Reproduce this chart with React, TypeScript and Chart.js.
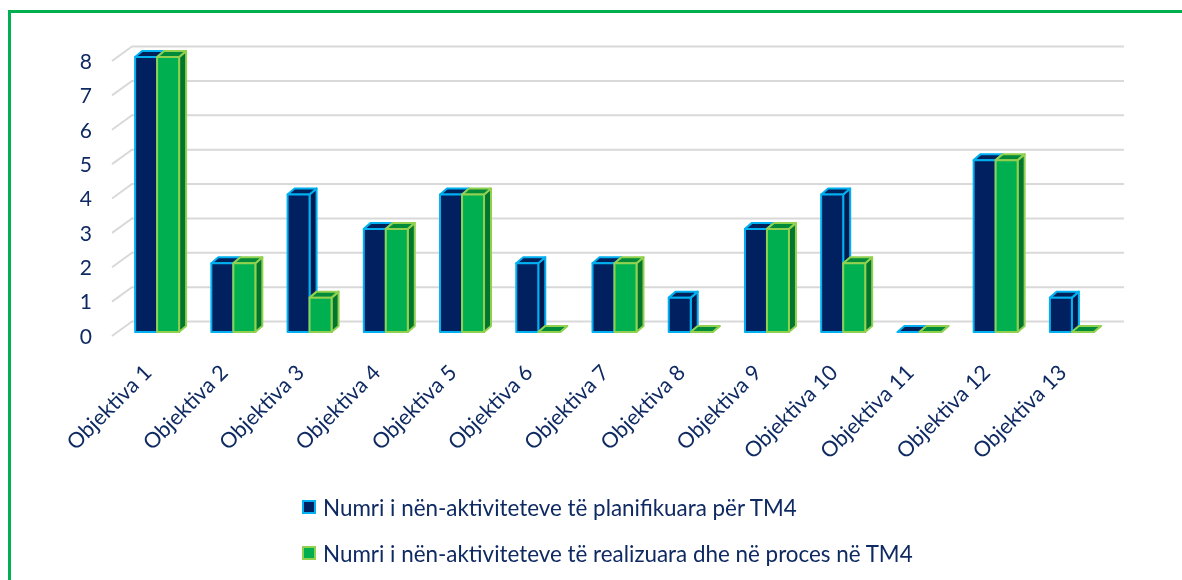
import React, { useEffect, useRef } from 'react';
import { Chart, registerables } from 'chart.js';

Chart.register(...registerables);

const categories = [
  'Objektiva 1', 'Objektiva 2', 'Objektiva 3', 'Objektiva 4', 'Objektiva 5',
  'Objektiva 6', 'Objektiva 7', 'Objektiva 8', 'Objektiva 9', 'Objektiva 10',
  'Objektiva 11', 'Objektiva 12', 'Objektiva 13',
];
const planned = [8, 2, 4, 3, 4, 2, 2, 1, 3, 4, 0, 5, 1];
const realized = [8, 2, 1, 3, 4, 0, 2, 0, 3, 2, 0, 5, 0];
const yTicks = [0, 1, 2, 3, 4, 5, 6, 7, 8];
const seriesNames = [
  'Numri i nën-aktiviteteve të planifikuara për TM4',
  'Numri i nën-aktiviteteve të realizuara dhe në proces në TM4',
];

const TEXT = '#0f2a62';
const FONT = 'Lato, "Open Sans", sans-serif';
const styles = [
  { front: '#002060', side: '#001a4d', top: '#00205a', border: '#00b0f0' },
  { front: '#00b050', side: '#00762f', top: '#008a3a', border: '#92d050' },
];
const DX = 7;
const DY = 6;

const threeD = {
  id: 'threeD',
  beforeDatasetsDraw(chart: any) {
    const { ctx, chartArea, scales } = chart;
    const y = scales.y;
    ctx.save();
    ctx.strokeStyle = '#d9d9d9';
    ctx.lineWidth = 2;
    yTicks.forEach((v) => {
      const py = y.getPixelForValue(v);
      ctx.beginPath();
      ctx.moveTo(chartArea.left - 7, py + 4);
      ctx.lineTo(chartArea.left + 13, py - 10.5);
      ctx.lineTo(chartArea.right + 14, py - 10.5);
      ctx.stroke();
    });
    ctx.restore();
  },
  afterDatasetsDraw(chart: any) {
    const { ctx } = chart;
    ctx.save();
    ctx.lineWidth = 2;
    ctx.lineJoin = 'round';
    for (let i = 0; i < categories.length; i++) {
      for (let d = 0; d < 2; d++) {
        const el = chart.getDatasetMeta(d).data[i];
        const p = el.getProps(['x', 'y', 'base', 'width'], true);
        const l = p.x - p.width / 2;
        const r = p.x + p.width / 2;
        const t = Math.min(p.y, p.base);
        const b = Math.max(p.y, p.base);
        const s = styles[d];
        ctx.strokeStyle = s.border;
        // side
        ctx.beginPath();
        ctx.moveTo(r, t);
        ctx.lineTo(r + DX, t - DY);
        ctx.lineTo(r + DX, b - DY);
        ctx.lineTo(r, b);
        ctx.closePath();
        ctx.fillStyle = s.side;
        ctx.fill();
        ctx.stroke();
        // top
        ctx.beginPath();
        ctx.moveTo(l, t);
        ctx.lineTo(l + DX, t - DY);
        ctx.lineTo(r + DX, t - DY);
        ctx.lineTo(r, t);
        ctx.closePath();
        ctx.fillStyle = s.top;
        ctx.fill();
        ctx.stroke();
        // front
        if (b - t > 0.5) {
          ctx.beginPath();
          ctx.rect(l, t, r - l, b - t);
          ctx.fillStyle = s.front;
          ctx.fill();
          ctx.stroke();
        }
      }
    }
    ctx.restore();
  },
};

export default function App() {
  const ref = useRef<HTMLCanvasElement>(null);
  useEffect(() => {
    if (!ref.current) return;
    const chart = new Chart(ref.current, {
      type: 'bar',
      data: {
        labels: categories,
        datasets: [
          { label: seriesNames[0], data: planned, backgroundColor: 'rgba(0,0,0,0)', borderWidth: 0 },
          { label: seriesNames[1], data: realized, backgroundColor: 'rgba(0,0,0,0)', borderWidth: 0 },
        ],
      },
      options: {
        animation: false,
        responsive: false,
        maintainAspectRatio: false,
        datasets: { bar: { categoryPercentage: 0.577, barPercentage: 1 } },
        layout: { padding: { left: 0, top: 57, right: 72, bottom: 0 } },
        plugins: { legend: { display: false }, tooltip: { enabled: false }, title: { display: false } },
        scales: {
          x: {
            grid: { display: false, drawTicks: false },
            border: { display: false },
            ticks: {
              color: TEXT,
              font: { family: FONT, size: 21.5 },
              minRotation: 45,
              maxRotation: 45,
              padding: 28,
              labelOffset: -9,
              autoSkip: false,
            },
            afterFit: (s: any) => { s.height = 248; },
          },
          y: {
            min: 0,
            max: 8,
            grid: { display: false, drawTicks: false },
            border: { display: false },
            ticks: {
              stepSize: 1,
              color: TEXT,
              font: { family: FONT, size: 21 },
              padding: 27,
              labelOffset: 5,
            },
            afterFit: (s: any) => { s.width = 119; },
          },
        },
      },
      plugins: [threeD],
    });
    return () => chart.destroy();
  }, []);

  const legendItem = (i: number, top: number) => (
    <div style={{ position: 'absolute', left: 302, top: top - 14, height: 28, display: 'flex', alignItems: 'center' }}>
      <div style={{ width: 10, height: 10, background: styles[i].front, border: `2px solid ${styles[i].border}` }} />
      <span style={{ marginLeft: 7, fontFamily: FONT, fontSize: 22.4, color: TEXT, whiteSpace: 'nowrap' }}>{seriesNames[i]}</span>
    </div>
  );

  return (
    <div style={{ position: 'fixed', left: 0, top: 0, width: 1182, height: 580, overflow: 'hidden', background: '#fff' }}>
      <canvas ref={ref} width={1182} height={580} style={{ position: 'absolute', left: 0, top: 0 }} />
      <div style={{ position: 'absolute', left: 8, top: 10, width: 1200, height: 600, border: '3px solid #00b050' }} />
      {legendItem(0, 507)}
      {legendItem(1, 553)}
    </div>
  );
}
